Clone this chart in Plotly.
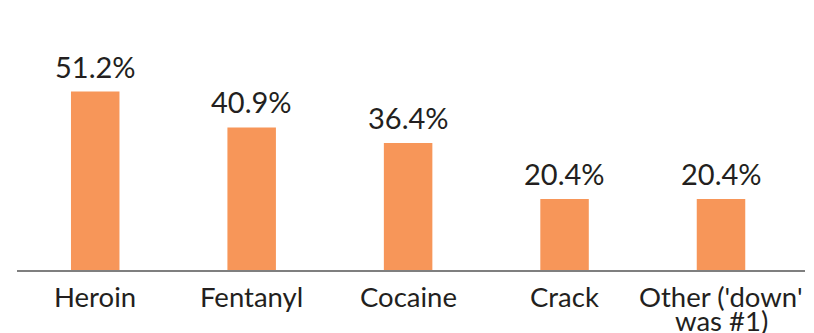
import plotly.graph_objects as go

categories = ["Heroin", "Fentanyl", "Cocaine", "Crack", "Other ('down'<br>was #1)"]
values = [51.2, 40.9, 36.4, 20.4, 20.4]
value_labels = ["51.2%", "40.9%", "36.4%", "20.4%", "20.4%"]

BAR_COLOR = "#F79659"
TEXT_COLOR = "#231F20"
FONT = "Lato, Noto Sans, sans-serif"

fig = go.Figure(go.Bar(
    x=categories, y=values, marker=dict(color=BAR_COLOR, line=dict(width=0)),
    hoverinfo="skip",
))

annotations = []
for c, v, t in zip(categories, values, value_labels):
    annotations.append(dict(x=c, y=v, xref="x", yref="y", text=t, showarrow=False,
                            yanchor="bottom", yshift=6,
                            font=dict(family=FONT, size=29, color=TEXT_COLOR)))
    for i, line in enumerate(c.split("<br>")):
        annotations.append(dict(x=c, y=0, xref="x", yref="paper", text=line, showarrow=False,
                                yanchor="top", yshift=-8 - 24 * i,
                                font=dict(family=FONT, size=27.5, color=TEXT_COLOR)))

fig.update_layout(
    width=814, height=333,
    margin=dict(l=17, r=9, t=0, b=63),
    paper_bgcolor="white", plot_bgcolor="white",
    bargap=0.69,
    showlegend=False,
    annotations=annotations,
    xaxis=dict(showticklabels=False, showline=True, linecolor="#7F7F7F", linewidth=2,
               ticks="", showgrid=False, zeroline=False, fixedrange=True),
    yaxis=dict(range=[0, 77.45], visible=False, showgrid=False, zeroline=False, fixedrange=True),
)

fig.write_html("out.html", config={"displayModeBar": False})
